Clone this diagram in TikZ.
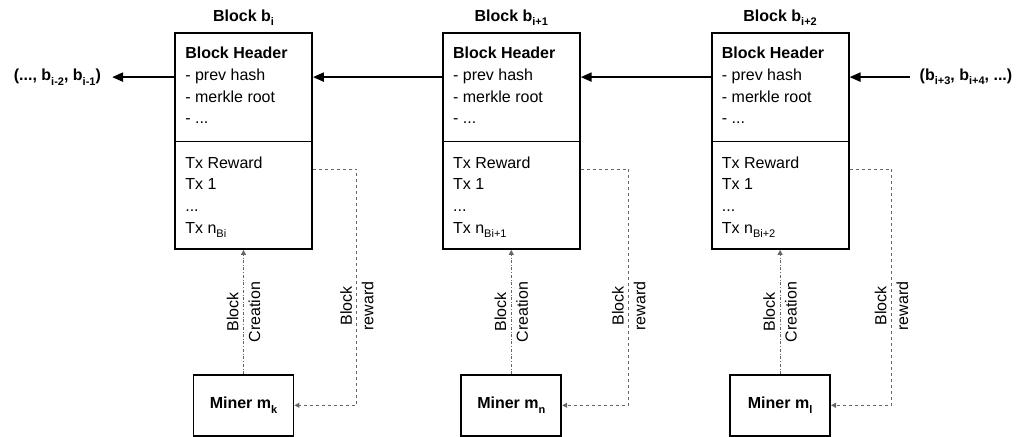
\documentclass[tikz,border=0pt]{standalone}
\usepackage{fontspec}
\setmainfont{Liberation Sans}
\usetikzlibrary{shapes,arrows.meta,positioning,calc}

\newcommand{\lowidx}[1]{\raisebox{-0.5ex}{\fontsize{11}{11}\selectfont #1}}

\begin{document}
\begin{tikzpicture}[x=1pt, y=-1pt, font=\fontsize{16}{21.7}\selectfont,
    block/.style={draw, line width=1.8pt, minimum width=137pt, minimum height=216pt, inner sep=0pt},
    blocktext/.style={anchor=north west, align=left, inner sep=0pt},
    boldtext/.style={font=\fontsize{16}{20}\selectfont\bfseries},
    miner/.style={draw, line width=1.8pt, minimum width=100pt, minimum height=61pt, boldtext},
    chain/.style={-{Triangle[length=11pt, width=9pt]}, line width=2.2pt},
    creation/.style={-{Triangle[length=5pt, width=5pt]}, dash dot, draw=black!60, line width=1pt},
    reward/.style={-{Triangle[length=5pt, width=5pt]}, dashed, draw=black!60, line width=1pt},
    rotlabel/.style={rotate=90, align=center, inner sep=0pt}]
    \useasboundingbox (0,0) rectangle (1016,436);

    % blocks of the chain
    \node[block] (b1) at (243.5,141) {};
    \node[block, right=129pt of b1] (b2) {};
    \node[block, right=130pt of b2] (b3) {};
    \draw[line width=0.8pt] (b1.west) -- (b1.east);
    \draw[line width=0.8pt] (b2.west) -- (b2.east);
    \draw[line width=0.8pt] (b3.west) -- (b3.east);

    \node[boldtext, above=3pt of b1] (t1) {Block b\lowidx{i}};
    \node[boldtext, above=3pt of b2] (t2) {Block b\lowidx{i+1}};
    \node[boldtext, above=3pt of b3] (t3) {Block b\lowidx{i+2}};

    \node[blocktext] (h1) at ($(b1.north west)+(11,15)$) {\textbf{Block Header}\\- prev hash\\- merkle root\\- ...};
    \node[blocktext] (h2) at ($(b2.north west)+(11,15)$) {\textbf{Block Header}\\- prev hash\\- merkle root\\- ...};
    \node[blocktext] (h3) at ($(b3.north west)+(11,15)$) {\textbf{Block Header}\\- prev hash\\- merkle root\\- ...};
    \node[blocktext] (x1) at ($(b1.west)+(11,15.5)$) {Tx Reward\\Tx 1\\...\\Tx n\lowidx{Bi}};
    \node[blocktext] (x2) at ($(b2.west)+(11,15.5)$) {Tx Reward\\Tx 1\\...\\Tx n\lowidx{Bi+1}};
    \node[blocktext] (x3) at ($(b3.west)+(11,15.5)$) {Tx Reward\\Tx 1\\...\\Tx n\lowidx{Bi+2}};

    % rest of the chain
    \node[boldtext, anchor=east, inner xsep=11pt] (prev) at ($(b1.north west)+(-62,45)$) {(..., b\lowidx{i-2}, b\lowidx{i-1})};
    \node[boldtext, anchor=west, inner xsep=10pt] (next) at ($(b3.north east)+(60,45)$) {(b\lowidx{i+3}, b\lowidx{i+4}, ...)};

    \draw[chain] (prev.east -| b1.west) -- (prev.east);
    \draw[chain] (b2.west |- prev.east) -- (b1.east |- prev.east);
    \draw[chain] (b3.west |- prev.east) -- (b2.east |- prev.east);
    \draw[chain] (next.west) -- (next.west -| b3.east);

    % miners
    \node[miner, below=124pt of b1] (m1) {Miner m\lowidx{k}};
    \node[miner, below=124pt of b2] (m2) {Miner m\lowidx{n}};
    \node[miner, below=124pt of b3] (m3) {Miner m\lowidx{l}};

    \draw[creation] (m1.north) -- node[rotlabel] {Block\\Creation} (b1.south);
    \draw[creation] (m2.north) -- node[rotlabel] {Block\\Creation} (b2.south);
    \draw[creation] (m3.north) -- node[rotlabel] {Block\\Creation} (b3.south);

    \draw[reward] ($(b1.east)+(0,28)$) -- ++(44,0) |- node[rotlabel, pos=0.29] {Block\\reward} (m1.east);
    \draw[reward] ($(b2.east)+(0,28)$) -- ++(48,0) |- node[rotlabel, pos=0.29] {Block\\reward} (m2.east);
    \draw[reward] ($(b3.east)+(0,28)$) -- ++(42,0) |- node[rotlabel, pos=0.29] {Block\\reward} (m3.east);
\end{tikzpicture}
\end{document}
